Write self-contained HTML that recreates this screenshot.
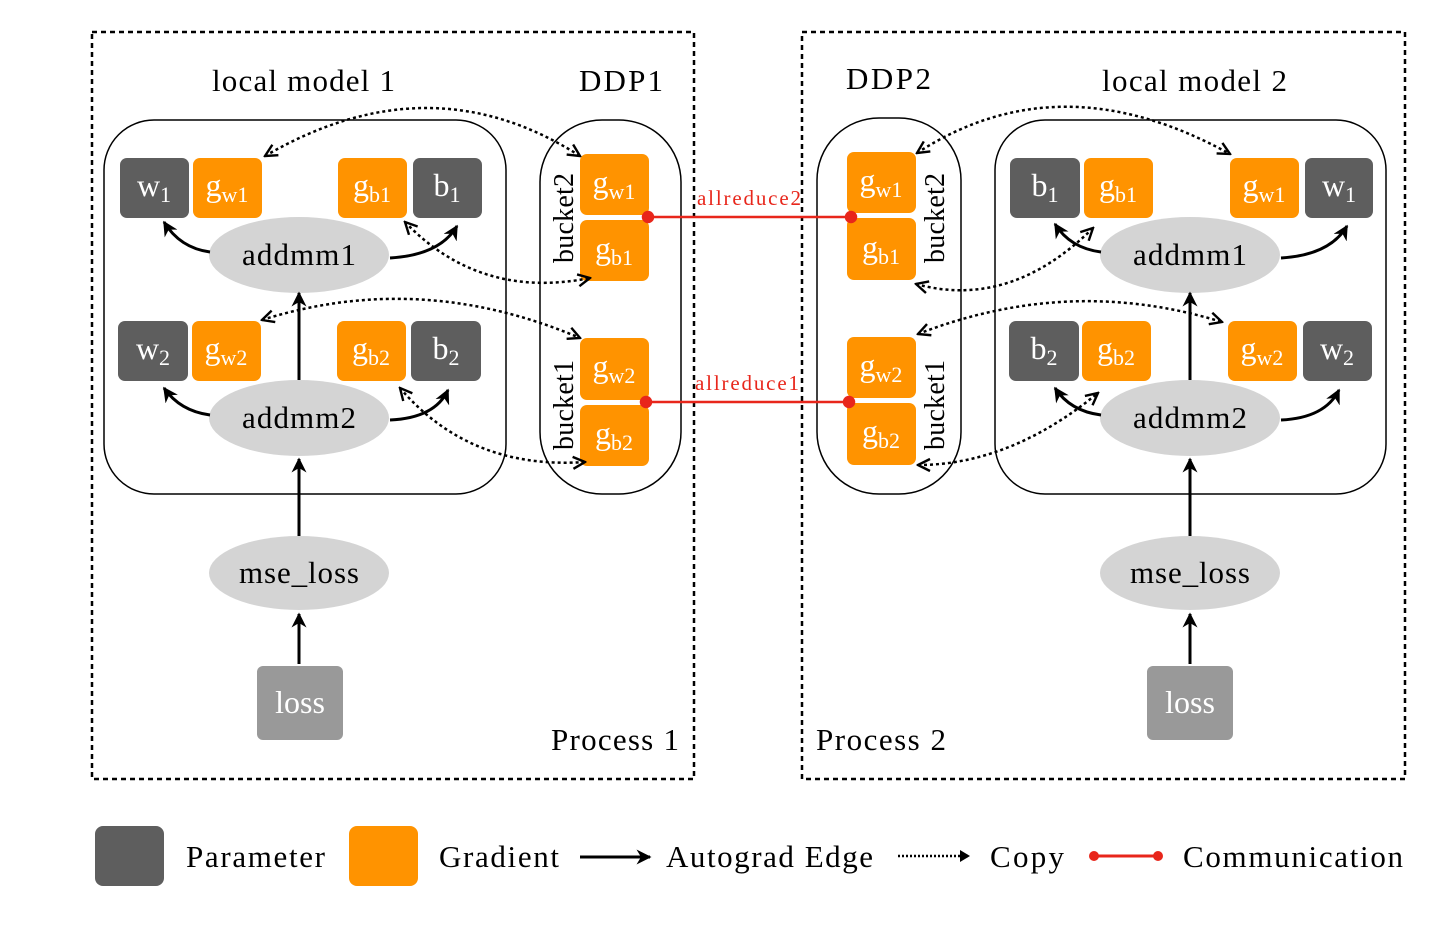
<!DOCTYPE html>
<html><head><meta charset="utf-8"><style>
html,body{margin:0;padding:0;background:#fff}
svg{display:block}
svg text{font-family:"Liberation Serif","DejaVu Serif",serif}
.t{font-size:31px;fill:#000}
.b{font-size:32px;fill:#fff}
.s{font-size:22px}
</style></head><body>
<svg width="1450" height="926" viewBox="0 0 1450 926" xmlns="http://www.w3.org/2000/svg" font-family="Liberation Serif, serif">
<defs>
<marker id="a" viewBox="0 0 10 10" refX="9" refY="5" markerWidth="5" markerHeight="5" orient="auto-start-reverse"><path d="M0,0 L10,5 L0,10 L3,5 z" fill="#000"/></marker>
<marker id="o" viewBox="0 0 10 10" refX="9" refY="5" markerWidth="6" markerHeight="6" orient="auto-start-reverse"><path d="M1,1 L9,5 L1,9" fill="none" stroke="#000" stroke-width="1.6"/></marker>
</defs>
<g fill="none" stroke="#000" stroke-width="2.5" stroke-dasharray="5,4">
<rect x="92" y="32" width="602" height="747"/>
<rect x="802" y="32" width="603" height="747"/>
</g>
<g fill="none" stroke="#000" stroke-width="1.5">
<rect x="104" y="120" width="402" height="374" rx="50"/>
<rect x="540" y="120" width="141" height="374" rx="62"/>
<rect x="817" y="118" width="144" height="376" rx="62"/>
<rect x="995" y="120" width="391" height="374" rx="50"/>
</g>
<text class="t" x="212" y="91" textLength="183">local model 1</text>
<text class="t" x="579" y="91" textLength="84">DDP1</text>
<text class="t" x="846" y="89" textLength="85">DDP2</text>
<text class="t" x="1102" y="91" textLength="185">local model 2</text>
<text class="t" x="551" y="750" textLength="128">Process 1</text>
<text class="t" x="816" y="750" textLength="130">Process 2</text>

<g fill="#d4d4d4">
<ellipse cx="299" cy="255" rx="90" ry="38"/><ellipse cx="299" cy="418" rx="90" ry="38"/><ellipse cx="299" cy="573" rx="90" ry="37"/>
<ellipse cx="1190" cy="255" rx="90" ry="38"/><ellipse cx="1190" cy="418" rx="90" ry="38"/><ellipse cx="1190" cy="573" rx="90" ry="37"/>
</g>
<g class="t" text-anchor="middle">
<text x="299" y="265" textLength="114">addmm1</text><text x="299" y="428" textLength="114">addmm2</text><text x="299" y="583" textLength="120">mse_loss</text>
<text x="1190" y="265" textLength="114">addmm1</text><text x="1190" y="428" textLength="114">addmm2</text><text x="1190" y="583" textLength="120">mse_loss</text>
</g>
<rect x="257" y="666" width="86" height="74" rx="6" fill="#999"/>
<rect x="1147" y="666" width="86" height="74" rx="6" fill="#999"/>
<text class="b" x="300" y="713" text-anchor="middle">loss</text>
<text class="b" x="1190" y="713" text-anchor="middle">loss</text>

<g>
<rect x="120" y="158" width="69" height="60" rx="7" fill="#5e5e5e"/>
<rect x="193" y="158" width="69" height="60" rx="7" fill="#ff9300"/>
<rect x="338" y="158" width="69" height="60" rx="7" fill="#ff9300"/>
<rect x="413" y="158" width="69" height="60" rx="7" fill="#5e5e5e"/>
<rect x="118" y="321" width="70" height="60" rx="7" fill="#5e5e5e"/>
<rect x="192" y="321" width="69" height="60" rx="7" fill="#ff9300"/>
<rect x="337" y="321" width="69" height="60" rx="7" fill="#ff9300"/>
<rect x="411" y="321" width="70" height="60" rx="7" fill="#5e5e5e"/>
<rect x="580" y="154" width="69" height="61" rx="7" fill="#ff9300"/>
<rect x="580" y="220" width="69" height="61" rx="7" fill="#ff9300"/>
<rect x="580" y="338" width="69" height="62" rx="7" fill="#ff9300"/>
<rect x="580" y="405" width="69" height="61" rx="7" fill="#ff9300"/>
<rect x="847" y="152" width="69" height="61" rx="7" fill="#ff9300"/>
<rect x="847" y="218" width="69" height="62" rx="7" fill="#ff9300"/>
<rect x="847" y="337" width="69" height="61" rx="7" fill="#ff9300"/>
<rect x="847" y="403" width="69" height="62" rx="7" fill="#ff9300"/>
<rect x="1010" y="158" width="70" height="60" rx="7" fill="#5e5e5e"/>
<rect x="1084" y="158" width="69" height="60" rx="7" fill="#ff9300"/>
<rect x="1230" y="158" width="69" height="60" rx="7" fill="#ff9300"/>
<rect x="1305" y="158" width="68" height="60" rx="7" fill="#5e5e5e"/>
<rect x="1009" y="321" width="70" height="60" rx="7" fill="#5e5e5e"/>
<rect x="1082" y="321" width="69" height="60" rx="7" fill="#ff9300"/>
<rect x="1228" y="321" width="69" height="60" rx="7" fill="#ff9300"/>
<rect x="1303" y="321" width="69" height="60" rx="7" fill="#5e5e5e"/>
</g>
<g class="b" text-anchor="middle">
<text x="154" y="196">w<tspan class="s" dy="6">1</tspan></text>
<text x="227" y="196">g<tspan class="s" dy="6">w1</tspan></text>
<text x="372" y="196">g<tspan class="s" dy="6">b1</tspan></text>
<text x="447" y="196">b<tspan class="s" dy="6">1</tspan></text>
<text x="153" y="359">w<tspan class="s" dy="6">2</tspan></text>
<text x="226" y="359">g<tspan class="s" dy="6">w2</tspan></text>
<text x="371" y="359">g<tspan class="s" dy="6">b2</tspan></text>
<text x="446" y="359">b<tspan class="s" dy="6">2</tspan></text>
<text x="614" y="193">g<tspan class="s" dy="6">w1</tspan></text>
<text x="614" y="259">g<tspan class="s" dy="6">b1</tspan></text>
<text x="614" y="377">g<tspan class="s" dy="6">w2</tspan></text>
<text x="614" y="444">g<tspan class="s" dy="6">b2</tspan></text>
<text x="881" y="191">g<tspan class="s" dy="6">w1</tspan></text>
<text x="881" y="258">g<tspan class="s" dy="6">b1</tspan></text>
<text x="881" y="376">g<tspan class="s" dy="6">w2</tspan></text>
<text x="881" y="442">g<tspan class="s" dy="6">b2</tspan></text>
<text x="1045" y="196">b<tspan class="s" dy="6">1</tspan></text>
<text x="1118" y="196">g<tspan class="s" dy="6">b1</tspan></text>
<text x="1264" y="196">g<tspan class="s" dy="6">w1</tspan></text>
<text x="1339" y="196">w<tspan class="s" dy="6">1</tspan></text>
<text x="1044" y="359">b<tspan class="s" dy="6">2</tspan></text>
<text x="1116" y="359">g<tspan class="s" dy="6">b2</tspan></text>
<text x="1262" y="359">g<tspan class="s" dy="6">w2</tspan></text>
<text x="1337" y="359">w<tspan class="s" dy="6">2</tspan></text>
</g>
<g class="t" text-anchor="middle" style="font-size:28px">
<text transform="translate(573,218) rotate(-90)" textLength="90">bucket2</text>
<text transform="translate(573,405) rotate(-90)" textLength="90">bucket1</text>
<text transform="translate(944,218) rotate(-90)" textLength="90">bucket2</text>
<text transform="translate(944,405) rotate(-90)" textLength="90">bucket1</text>
</g>

<g fill="none" stroke="#000" stroke-width="3" marker-end="url(#a)">
<path d="M210,252 Q180,248 164,222"/>
<path d="M390,258 Q440,255 457,226"/>
<path d="M210,415 Q180,411 164,388"/>
<path d="M390,420 Q435,418 448,390"/>
<path d="M299,380 L299,293"/>
<path d="M299,536 L299,459"/>
<path d="M299,664 L299,614"/>
<path d="M1101,252 Q1070,248 1055,224"/>
<path d="M1281,258 Q1330,255 1347,226"/>
<path d="M1101,415 Q1070,411 1055,388"/>
<path d="M1281,420 Q1325,418 1339,390"/>
<path d="M1190,380 L1190,293"/>
<path d="M1190,536 L1190,459"/>
<path d="M1190,664 L1190,614"/>
</g>
<g fill="none" stroke="#000" stroke-width="2.5" stroke-dasharray="3,3" marker-start="url(#o)" marker-end="url(#o)">
<path d="M265,156 Q430,60 580,156"/>
<path d="M405,222 Q480,300 590,278"/>
<path d="M262,320 Q420,270 580,338"/>
<path d="M400,388 Q470,470 585,462"/>
<path d="M917,153 Q1060,60 1230,154"/>
<path d="M916,284 Q1010,310 1093,228"/>
<path d="M918,334 Q1070,275 1222,322"/>
<path d="M918,465 Q1010,465 1098,393"/>
</g>
<g stroke="#e8261b" stroke-width="2.5" fill="#e8261b">
<line x1="648" y1="217" x2="851" y2="217"/>
<line x1="646" y1="402" x2="849" y2="402"/>
<circle cx="648" cy="217" r="5"/><circle cx="851" cy="217" r="5"/>
<circle cx="646" cy="402" r="5"/><circle cx="849" cy="402" r="5"/>
</g>
<text x="697" y="205" style="font-size:21px;fill:#e8261b" textLength="104">allreduce2</text>
<text x="695" y="390" style="font-size:21px;fill:#e8261b" textLength="104">allreduce1</text>

<rect x="95" y="826" width="69" height="60" rx="8" fill="#5e5e5e"/>
<rect x="349" y="826" width="69" height="60" rx="8" fill="#ff9300"/>
<text class="t" x="186" y="867" textLength="139">Parameter</text>
<text class="t" x="439" y="867" textLength="120">Gradient</text>
<line x1="580" y1="857" x2="650" y2="857" stroke="#000" stroke-width="3" marker-end="url(#a)"/>
<text class="t" x="666" y="867" textLength="207">Autograd Edge</text>
<line x1="898" y1="856" x2="968" y2="856" stroke="#000" stroke-width="2.5" stroke-dasharray="2,2"/>
<path d="M960,850 L970,856 L960,862 z" fill="#000"/>
<text class="t" x="990" y="867" textLength="74">Copy</text>
<line x1="1094" y1="856" x2="1158" y2="856" stroke="#e8261b" stroke-width="3"/>
<circle cx="1094" cy="856" r="5" fill="#e8261b"/><circle cx="1158" cy="856" r="5" fill="#e8261b"/>
<text class="t" x="1183" y="867" textLength="220">Communication</text>
</svg>
</body></html>
